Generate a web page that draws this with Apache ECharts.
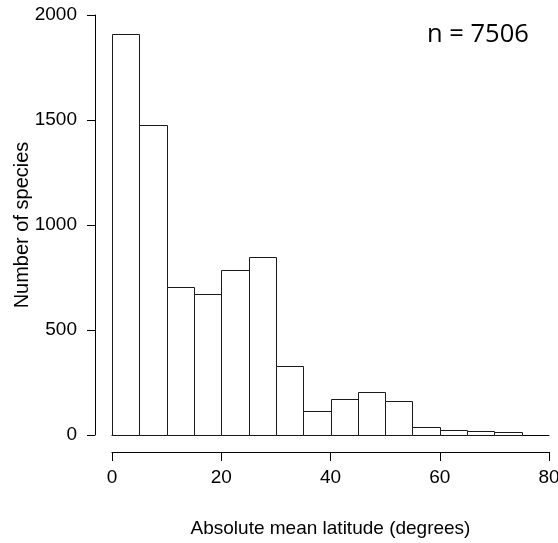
<!DOCTYPE html>
<html lang="en">
<head>
    <meta charset="UTF-8">
    <title>latitude histogram</title>
    <script src="https://cdn.jsdelivr.net/npm/echarts@6/dist/echarts.min.js"></script>
    <style>
        body { margin: 0; background: #fff; }
    </style>
</head>
<body>
<div id="main" style="width: 558px;height: 543px"></div>
</body>

<script>

    // histogram bins (degrees) and counts
    var binStart = [0, 5, 10, 15, 20, 25, 30, 35, 40, 45, 50, 55, 60, 65, 70];
    var binEnd = [5, 10, 15, 20, 25, 30, 35, 40, 45, 50, 55, 60, 65, 70, 75];
    var counts = [1910, 1475, 703, 673, 787, 846, 327, 113, 173, 203, 162, 37, 25, 20, 12];
    var xTicks = [0, 20, 40, 60, 80];
    var yTicks = [0, 500, 1000, 1500, 2000];

    var data = [];
    for (var i = 0; i < counts.length; i++) {
        data.push([binStart[i], binEnd[i], counts[i]]);
    }

    var myChart = echarts.init(document.getElementById('main'));

    var font = 'Liberation Sans, Arial, sans-serif';

    var option = {
        animation: false,
        graphic: [{
            type: 'text',
            left: 427,
            top: 22,
            style: {
                text: 'n = 7506',
                font: '25.5px "Open Sans", sans-serif',
                fill: '#000'
            }
        }],
        grid: {
            left: 112,
            right: 9,
            top: 15,
            bottom: 108,
            outerBoundsMode: 'none'
        },
        xAxis: [{
            type: 'value',
            min: xTicks[0],
            max: xTicks[xTicks.length - 1],
            interval: 20,
            offset: 17,
            axisLine: { onZero: false, lineStyle: { color: '#000', width: 1 } },
            axisTick: { length: 9, lineStyle: { color: '#000' } },
            splitLine: { show: false },
            axisLabel: {
                color: '#000',
                fontSize: 19,
                fontFamily: font,
                margin: 16,
                showMinLabel: true,
                showMaxLabel: true,
                formatter: function (v) { return String(v); }
            },
            name: 'Absolute mean latitude (degrees)',
            nameLocation: 'middle',
            nameGap: 67,
            nameTextStyle: { color: '#000', fontSize: 19, fontFamily: font }
        }, {
            // baseline under the bars
            type: 'value',
            min: 0,
            max: 80,
            position: 'bottom',
            axisLine: { onZero: false, lineStyle: { color: '#000', width: 1 } },
            axisTick: { show: false },
            axisLabel: { show: false },
            splitLine: { show: false }
        }],
        yAxis: {
            type: 'value',
            min: yTicks[0],
            max: yTicks[yTicks.length - 1],
            interval: 500,
            offset: 17,
            axisLine: { show: true, onZero: false, lineStyle: { color: '#000', width: 1 } },
            axisTick: { show: true, length: 8, lineStyle: { color: '#000' } },
            splitLine: { show: false },
            axisLabel: {
                color: '#000',
                fontSize: 19,
                fontFamily: font,
                margin: 18,
                formatter: function (v) { return String(v); }
            },
            name: 'Number of species',
            nameLocation: 'middle',
            nameGap: 63,
            nameMoveOverlap: false,
            nameTextStyle: { color: '#000', fontSize: 20, fontFamily: font }
        },
        series: [{
            type: 'custom',
            xAxisIndex: 0,
            data: data,
            renderItem: function (params, api) {
                var p0 = api.coord([api.value(0), api.value(2)]);
                var p1 = api.coord([api.value(1), 0]);
                return {
                    type: 'rect',
                    shape: {
                        x: Math.round(p0[0]) + 0.5,
                        y: Math.round(p0[1]) + 0.5,
                        width: Math.round(p1[0]) - Math.round(p0[0]),
                        height: Math.round(p1[1]) - Math.round(p0[1])
                    },
                    style: {
                        fill: '#fff',
                        stroke: '#1a1a1a',
                        lineWidth: 1
                    }
                };
            },
            encode: { x: [0, 1], y: 2 }
        }]
    };

    myChart.setOption(option);

</script>

</html>
